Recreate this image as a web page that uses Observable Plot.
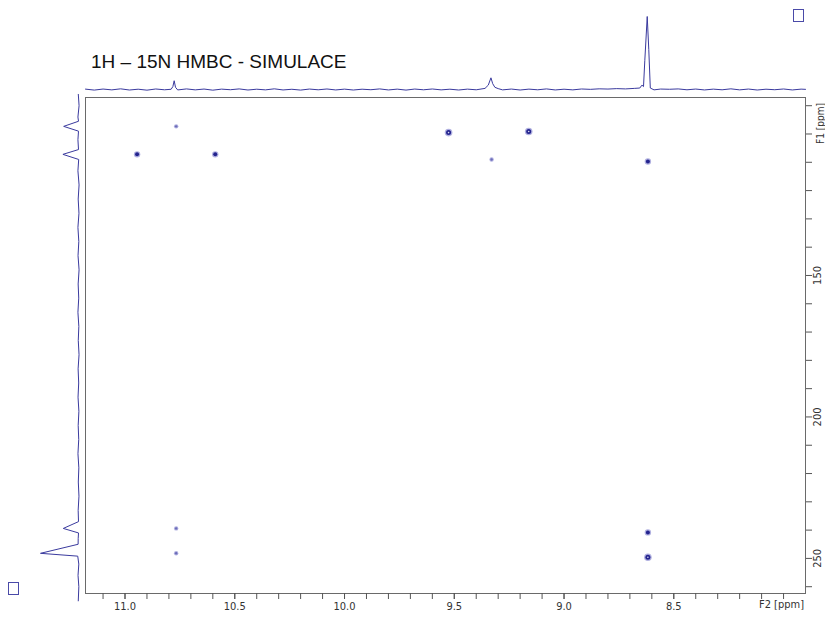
<!DOCTYPE html>
<html><head><meta charset="utf-8">
<script src="https://cdn.jsdelivr.net/npm/d3@7"></script>
<script src="https://cdn.jsdelivr.net/npm/@observablehq/plot@0.6"></script>
<style>
body{margin:0;background:#fff;}
#wrap{position:relative;width:825px;height:618px;overflow:hidden;background:#fff;}
#wrap svg{position:absolute;left:0;top:0;overflow:visible;}
#title{position:absolute;left:91px;top:52px;font:19px "Liberation Sans",Arial,sans-serif;line-height:19px;color:#111;white-space:nowrap;}
.sq{position:absolute;border:1px solid #4a4aa8;width:9px;height:11px;}
</style></head><body>
<div id="wrap"><div id="title">1H – 15N HMBC - SIMULACE</div>
<div class="sq" style="left:793px;top:9px"></div>
<div class="sq" style="left:8px;top:582px"></div>
</div>
<script>
// ---- data ----
const titleText = "1H – 15N HMBC - SIMULACE";
// cross peaks (F2 = 1H ppm, F1 = 15N ppm)
const peakF2 = [10.767, 10.945, 10.589, 9.526, 9.161, 9.330, 8.618, 10.767, 10.767, 8.618, 8.618];
const peakF1 = [97.3, 107.2, 107.2, 99.5, 99.1, 109.0, 109.7, 239.4, 248.2, 240.8, 249.6];
const peakLevel = [1, 2, 2, 3, 3, 1, 2, 1, 1, 2, 3];
// top 1H projection
const topPpm = [11.18,11.14,11.10,11.06,11.02,10.98,10.94,10.90,10.86,10.82,10.79,10.782,10.776,10.77,10.76,10.72,10.68,10.64,10.60,10.56,10.52,10.48,10.44,10.40,10.36,10.32,10.28,10.24,10.20,10.16,10.12,10.08,10.04,10.00,9.96,9.92,9.88,9.84,9.80,9.76,9.72,9.68,9.64,9.60,9.56,9.52,9.48,9.44,9.40,9.36,9.345,9.333,9.325,9.315,9.30,9.28,9.24,9.20,9.16,9.12,9.08,9.04,9.00,8.96,8.92,8.88,8.84,8.80,8.76,8.72,8.68,8.655,8.645,8.638,8.632,8.621,8.614,8.607,8.59,8.56,8.52,8.48,8.44,8.40,8.36,8.32,8.28,8.24,8.20,8.16,8.12,8.08,8.04,8.00,7.96,7.92,7.90];
const topInt = [0.5,-0.8,0.6,-0.5,0.9,-0.7,0.4,-0.9,0.7,-0.4,0.3,4,12,3,-0.6,0.8,-0.5,0.6,-0.9,0.5,-0.3,0.8,-0.7,0.4,-0.5,0.9,-0.6,0.3,-0.8,0.6,-0.4,0.7,-0.6,0.5,-0.7,0.4,-0.3,0.8,-0.6,0.5,-0.8,0.6,-0.4,0.7,-0.5,0.4,-0.7,0.5,-0.4,1.5,6,16,8,3,1.2,-0.5,0.6,-0.7,0.5,-0.4,0.8,-0.6,0.4,-0.5,0.7,0.2,0.9,0.6,1.2,0.8,1.5,2,6,4,40,100,55,2,-0.5,0.6,0.3,0.8,-0.4,0.6,-0.6,0.5,-0.4,0.9,-0.5,0.6,-0.7,0.4,-0.3,0.7,-0.6,0.5,0.2];
// left 15N projection
const leftPpm = [86,90,94,95.5,97.3,99,102,105.5,107.2,109,113,118,123,128,133,138,143,148,153,158,163,168,173,178,183,188,193,198,203,208,213,218,223,228,233,237,239.4,241,243,245,248.2,249.2,252,256,260,265];
const leftInt = [0.5,-1.5,1.5,0,39,0,1.5,0,41,-0.5,1.5,-1.5,0.8,-1.2,1.5,-0.8,1.2,-1.5,0.9,-0.6,1.5,-0.9,0.6,-1.4,1.0,-0.5,1.2,-1.0,0.8,-0.6,1.4,-0.9,0.5,-1.2,0.9,0,40,0,0.8,1,100,2,-0.8,1.2,-0.9,0.6];
// axes
const xMinor = d3.range(80, 112).map(d => d / 10);
const xLabels = [11.0, 10.5, 10.0, 9.5, 9.0, 8.5];
const yMinor = d3.range(90, 270, 10);
const yLabels = [150, 200, 250];

const xDomain = [11.18, 7.90];
const yDomain = [262.4, 87.1];
const font = '"Liberation Sans Narrow","DejaVu Sans Condensed","Liberation Sans",sans-serif';
const lineColor = "#3a3a9e";
const axisColor = "#555";

const peaks = peakF2.map((x, i) => ({x, y: peakF1[i], level: peakLevel[i]}));
const top1D = topPpm.map((x, i) => ({x, v: topInt[i]}));
const left1D = leftPpm.map((y, i) => ({y, v: leftInt[i]}));

const main = Plot.plot({
  width: 825, height: 618,
  marginLeft: 85, marginRight: 20, marginTop: 97, marginBottom: 25,
  style: {background: "transparent", fontFamily: font, fontSize: "11px", color: "#333"},
  x: {domain: xDomain},
  y: {domain: yDomain},
  r: {type: "identity"},
  marks: [
    Plot.frame({stroke: "#6a6a6a"}),
    Plot.axisX(xMinor, {anchor: "bottom", tickSize: 6, tickFormat: () => "", label: null, stroke: axisColor}),
    Plot.axisX(xLabels, {anchor: "bottom", tickSize: 6, tickPadding: 3, tickFormat: d => d.toFixed(1), label: null, stroke: axisColor, fill: "#333"}),
    Plot.axisY(yMinor, {anchor: "right", tickSize: 6, tickFormat: () => "", label: null, stroke: axisColor}),
    Plot.text(yLabels, {y: d => d, text: d => String(d), frameAnchor: "right", dx: 12, rotate: -90, textAnchor: "middle", fill: "#333", fontSize: 11}),
    Plot.text(["F1 [ppm]"], {text: d => d, frameAnchor: "top-right", dx: 11, dy: 26, rotate: -90, textAnchor: "middle", fill: "#333", fontSize: 10}),
    Plot.text(["F2 [ppm]"], {text: d => d, frameAnchor: "bottom-right", dx: -24, dy: 14, textAnchor: "middle", fill: "#333", fontSize: 11}),
    Plot.dot(peaks, {x: "x", y: "y", r: d => [0, 2.2, 3.2, 3.8][d.level], fill: "#b0b0e0"}),
    Plot.dot(peaks, {x: "x", y: "y", r: d => [0, 1.2, 2.0, 2.5][d.level], fill: d => d.level === 1 ? "#6c6cb8" : "#24248e"}),
    Plot.dot(peaks.filter(d => d.level === 3), {x: "x", y: "y", r: 0.8, fill: "#d8d8f2"})
  ]
});

const topPlot = Plot.plot({
  width: 825, height: 97,
  marginLeft: 85, marginRight: 20, marginTop: 16, marginBottom: 8,
  style: {background: "transparent"},
  x: {domain: xDomain, axis: null},
  y: {domain: [0, 100], axis: null},
  marks: [
    Plot.line(top1D, {x: "x", y: "v", stroke: lineColor, strokeWidth: 1})
  ]
});

const leftPlot = Plot.plot({
  width: 85, height: 618,
  marginLeft: 40, marginRight: 7, marginTop: 97, marginBottom: 25,
  style: {background: "transparent", overflow: "visible"},
  x: {domain: [100, 0], axis: null},
  y: {domain: yDomain, axis: null},
  clip: false,
  marks: [
    Plot.line(left1D, {x: "v", y: "y", stroke: lineColor, strokeWidth: 1, curve: "linear"})
  ]
});

const wrap = document.getElementById("wrap");
wrap.prepend(main);
wrap.appendChild(topPlot);
wrap.appendChild(leftPlot);
</script></body></html>
